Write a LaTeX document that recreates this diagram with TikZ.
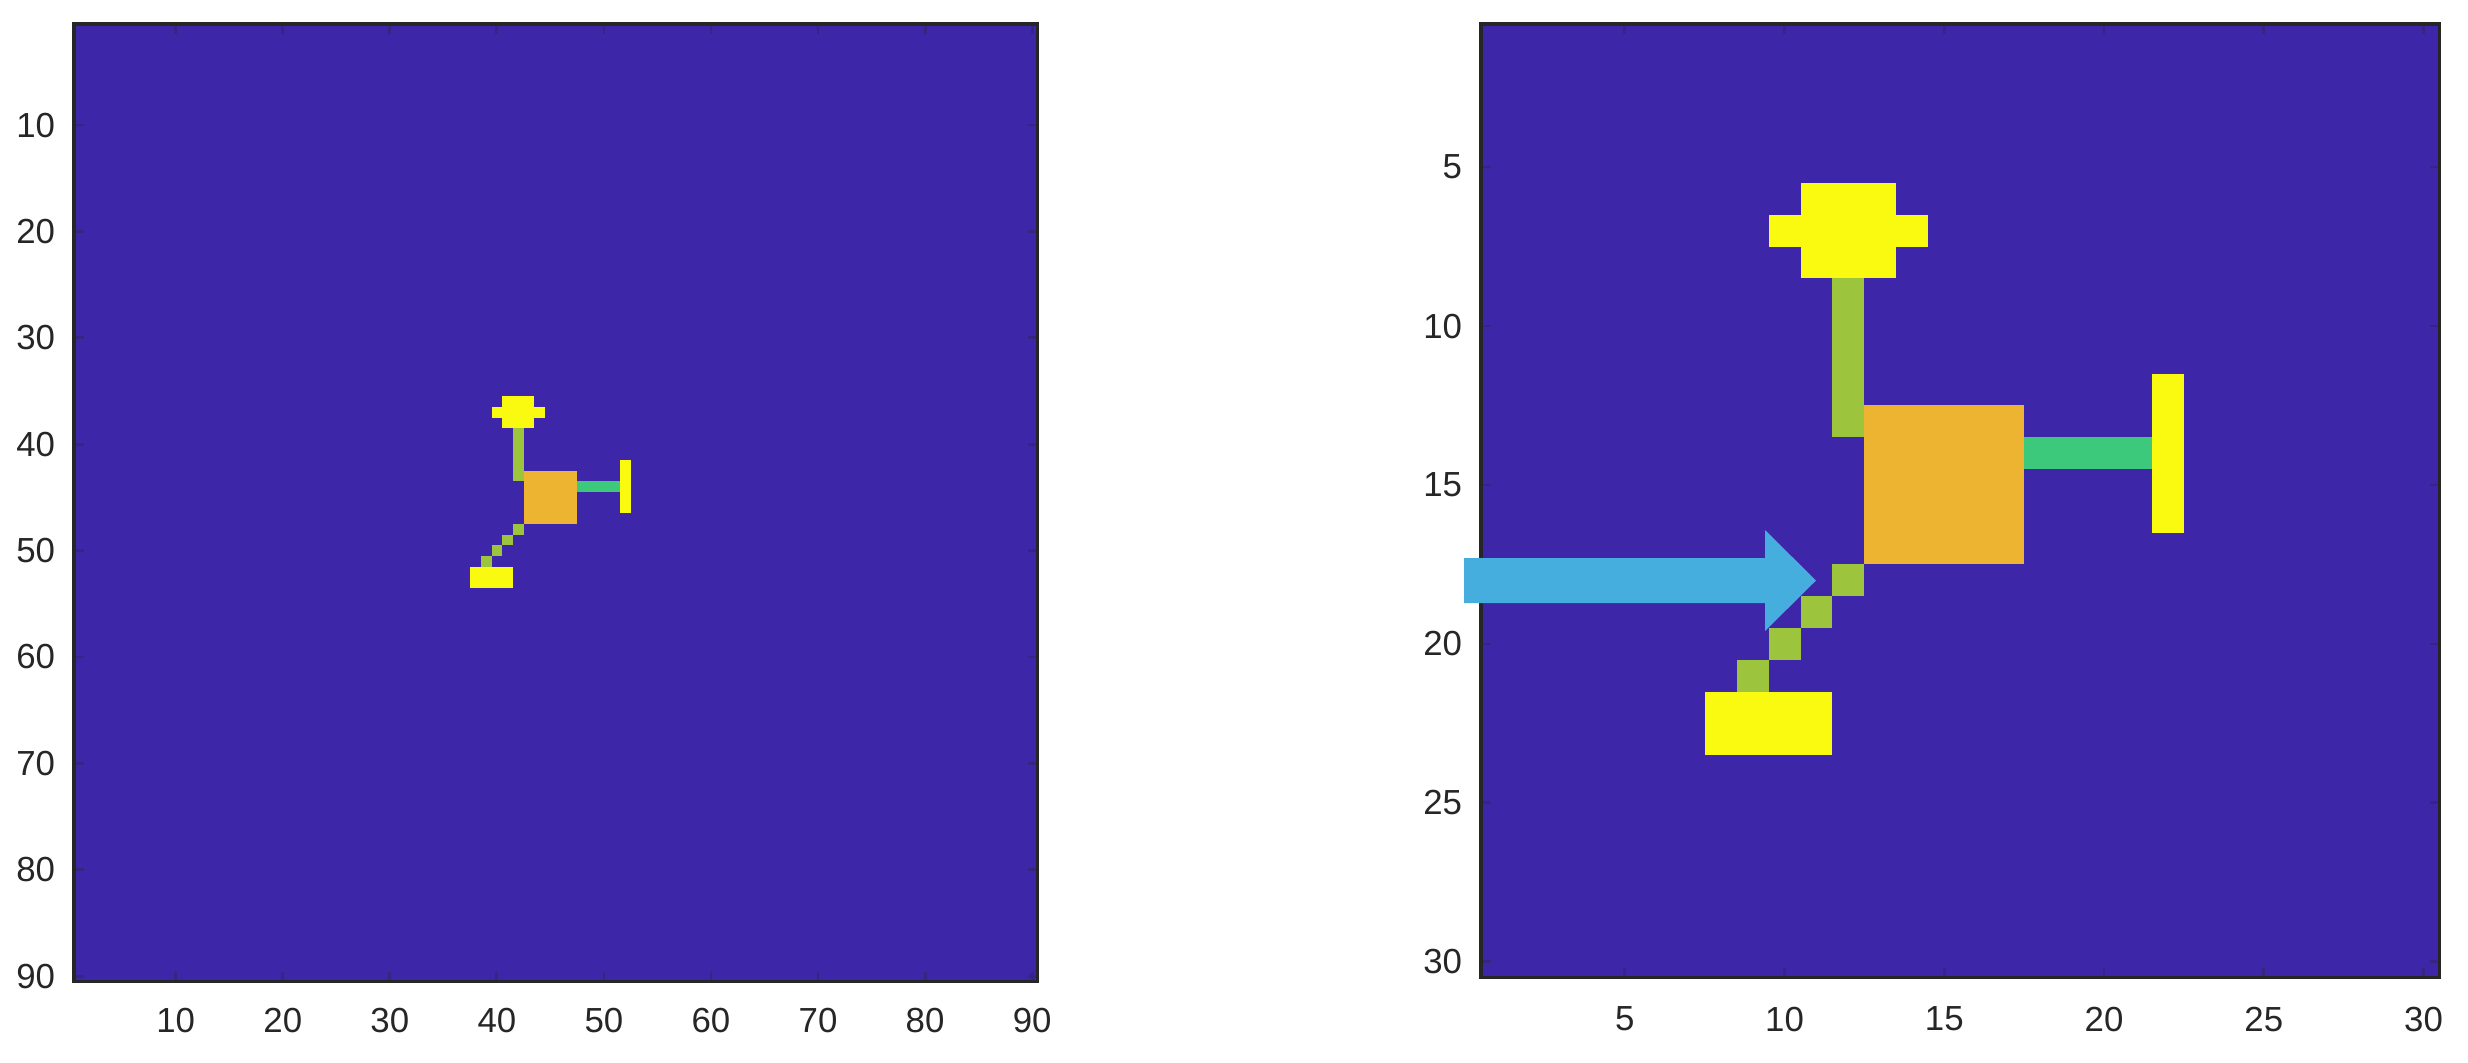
\documentclass[tikz,border=0pt]{standalone}
\usepackage{fontspec}
\setmainfont{Liberation Sans}
\definecolor{bgblue}{HTML}{3D26A8}
\definecolor{pyellow}{HTML}{F9FA0F}
\definecolor{porange}{HTML}{EDB431}
\definecolor{pgreen}{HTML}{9CC43C}
\definecolor{pteal}{HTML}{3DC97C}
\definecolor{parrow}{HTML}{45AEDF}
\definecolor{axcol}{HTML}{262626}
\tikzset{
  axbox/.style={draw=axcol, line width=0.9pt, fill=bgblue},
  tickmark/.style={draw=axcol!30!bgblue, line width=0.8pt},
  ticklbl/.style={text=axcol, font=\fontsize{9.9}{12}\selectfont, inner sep=0pt},
  cellY/.style={fill=pyellow},
  cellO/.style={fill=porange},
  cellG/.style={fill=pgreen},
  cellT/.style={fill=pteal},
  arrowshape/.style={fill=parrow}
}
\newcommand{\drawobject}{%
  \fill[cellY] (10.5,5.5) rectangle (13.5,8.5);
  \fill[cellY] (9.5,6.5) rectangle (14.5,7.5);
  \fill[cellG] (11.5,8.5) rectangle (12.5,13.5);
  \fill[cellO] (12.5,12.5) rectangle (17.5,17.5);
  \fill[cellT] (17.5,13.5) rectangle (21.5,14.5);
  \fill[cellY] (21.5,11.5) rectangle (22.5,16.5);
  \fill[cellG] (11.5,17.5) rectangle (12.5,18.5);
  \fill[cellG] (10.5,18.5) rectangle (11.5,19.5);
  \fill[cellG] (9.5,19.5) rectangle (10.5,20.5);
  \fill[cellG] (8.5,20.5) rectangle (9.5,21.5);
  \fill[cellY] (7.5,21.5) rectangle (11.5,23.5);
}
\begin{document}
\begin{tikzpicture}[x=0.01cm,y=-0.01cm]
\useasboundingbox (0,0) rectangle (2468,1062);
\fill[white] (0,0) rectangle (2468,1062);
% ---------- left axes ----------
\begin{scope}[shift={(68.65,18.68)}, x=0.107cm, y=-0.10633cm]
  \fill[bgblue] (0.5,0.5) rectangle (90.5,90.5);
  \begin{scope}[shift={(30,30)}]
    \drawobject
  \end{scope}
  \foreach \v in {10,20,...,90} {
    \draw[tickmark] (\v,90.5) -- ++(0,-0.9);
    \draw[tickmark] (\v,0.5) -- ++(0,0.9);
    \draw[tickmark] (0.5,\v) -- ++(0.9,0);
    \draw[tickmark] (90.5,\v) -- ++(-0.9,0);
    \node[ticklbl] (lx\v) at (\v,94.15) {\v};
    \node[ticklbl, anchor=east] (ly\v) at (-1.2,\v) {\v};
  }
  \draw[axcol, line width=0.9pt] (0.5,0.5) rectangle (90.5,90.5);
\end{scope}
% ---------- right axes ----------
\begin{scope}[shift={(1465.03,8.115)}, x=0.3193cm, y=-0.3177cm]
  \fill[bgblue] (0.5,0.5) rectangle (30.5,30.5);
  \drawobject
  \foreach \v in {5,10,...,30} {
    \draw[tickmark] (\v,30.5) -- ++(0,-0.3);
    \draw[tickmark] (\v,0.5) -- ++(0,0.3);
    \draw[tickmark] (0.5,\v) -- ++(0.3,0);
    \draw[tickmark] (30.5,\v) -- ++(-0.3,0);
    \node[ticklbl] (rx\v) at (\v,31.8) {\v};
    \node[ticklbl, anchor=east] (ry\v) at (-0.07,\v) {\v};
  }
  \draw[axcol, line width=0.9pt] (0.5,0.5) rectangle (30.5,30.5);
\end{scope}
% ---------- arrow ----------
\fill[arrowshape] (1464,558) -- (1765,558) -- (1765,530) -- (1816,580.5)
  -- (1765,631) -- (1765,603) -- (1464,603) -- cycle;
\end{tikzpicture}
\end{document}
